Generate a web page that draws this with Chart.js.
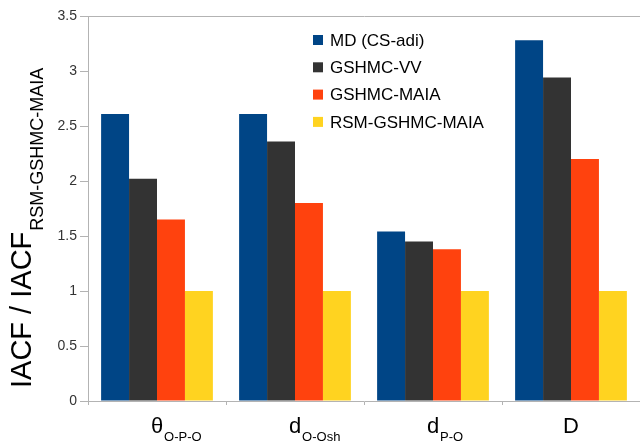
<!DOCTYPE html>
<html>
<head>
<meta charset="utf-8">
<script src="https://cdn.jsdelivr.net/npm/chart.js@4/dist/chart.umd.min.js"></script>
<style>
html,body{margin:0;padding:0;background:#fff;overflow:hidden;}
#wrap{width:640px;height:444px;position:relative;}
</style>
</head>
<body>
<div id="wrap"><canvas id="c" width="640" height="444"></canvas></div>
<script>
// ---- data ----
const categoryMain = ['θ', 'd', 'd', 'D'];
const categorySub = ['O-P-O', 'O-Osh', 'P-O', ''];
const seriesNames = ['MD (CS-adi)', 'GSHMC-VV', 'GSHMC-MAIA', 'RSM-GSHMC-MAIA'];
const mdValues = [2.61, 2.61, 1.54, 3.28];
const vvValues = [2.02, 2.36, 1.45, 2.94];
const maiaValues = [1.65, 1.80, 1.38, 2.20];
const rsmValues = [1.00, 1.00, 1.00, 1.00];
const yTickLabels = ['0', '0.5', '1', '1.5', '2', '2.5', '3', '3.5'];
const yTitleMain = 'IACF / IACF';
const yTitleSub = 'RSM-GSHMC-MAIA';
const colors = ['#004586', '#333333', '#ff420e', '#ffd320'];

const FONT = '"Liberation Sans", Arial, sans-serif';
const AXIS = '#b3b3b3';

const labelPlugin = {
  id: 'customText',
  afterDraw(chart) {
    const ctx = chart.ctx;
    const x = chart.scales.x;
    ctx.save();
    ctx.fillStyle = '#000';
    ctx.textBaseline = 'alphabetic';
    ctx.textAlign = 'left';
    // x labels with subscripts
    categoryMain.forEach((m, i) => {
      const cx = x.getPixelForValue(i);
      ctx.font = '22px ' + FONT;
      const mw = ctx.measureText(m).width;
      const left = cx - mw / 2;
      ctx.fillText(m, left, 433);
      if (categorySub[i]) {
        ctx.font = '13px ' + FONT;
        ctx.fillText(categorySub[i], left + mw + 1, 441);
      }
    });
    // y title
    ctx.save();
    ctx.translate(31, 388);
    ctx.rotate(-Math.PI / 2);
    ctx.font = '29px ' + FONT;
    ctx.fillText(yTitleMain, 0, 0);
    const w = ctx.measureText(yTitleMain).width;
    ctx.font = '18px ' + FONT;
    ctx.fillText(yTitleSub, w + 1, 12);
    ctx.restore();
    // legend
    ctx.font = '17px ' + FONT;
    ctx.textBaseline = 'middle';
    chart.data.datasets.forEach((ds, i) => {
      const y = 40 + i * 27.3;
      ctx.fillStyle = ds.backgroundColor;
      ctx.fillRect(313, y - 5, 10, 10);
      ctx.fillStyle = '#000';
      ctx.fillText(ds.label, 330, y + 1);
    });
    ctx.restore();
  }
};

new Chart(document.getElementById('c'), {
  type: 'bar',
  data: {
    labels: categoryMain.map((m, i) => m + categorySub[i]),
    datasets: [
      { label: seriesNames[0], data: mdValues, backgroundColor: colors[0] },
      { label: seriesNames[1], data: vvValues, backgroundColor: colors[1] },
      { label: seriesNames[2], data: maiaValues, backgroundColor: colors[2] },
      { label: seriesNames[3], data: rsmValues, backgroundColor: colors[3] }
    ]
  },
  options: {
    responsive: false,
    animation: false,
    layout: { padding: { top: 16, right: 0, left: 0, bottom: 0 } },
    plugins: { legend: { display: false }, tooltip: { enabled: false } },
    datasets: { bar: { barPercentage: 1.0, categoryPercentage: 0.81 } },
    scales: {
      x: {
        ticks: { display: false },
        grid: { drawOnChartArea: false, color: AXIS, tickLength: 4, offset: true },
        border: { color: AXIS, width: 1 },
        afterFit(s) { s.height = 43; }
      },
      y: {
        min: 0, max: 3.5,
        ticks: {
          stepSize: 0.5, color: '#333', font: { family: FONT, size: 14 }, padding: 3,
          callback: (v, i) => yTickLabels[i]
        },
        grid: {
          color: (c) => (c.tick && c.tick.value === 3.5 ? AXIS : 'rgba(0,0,0,0)'),
          tickColor: AXIS, tickLength: 8
        },
        border: { color: AXIS, width: 1 },
        afterFit(s) { s.width = 88; }
      }
    }
  },
  plugins: [labelPlugin]
});
</script>
</body>
</html>
